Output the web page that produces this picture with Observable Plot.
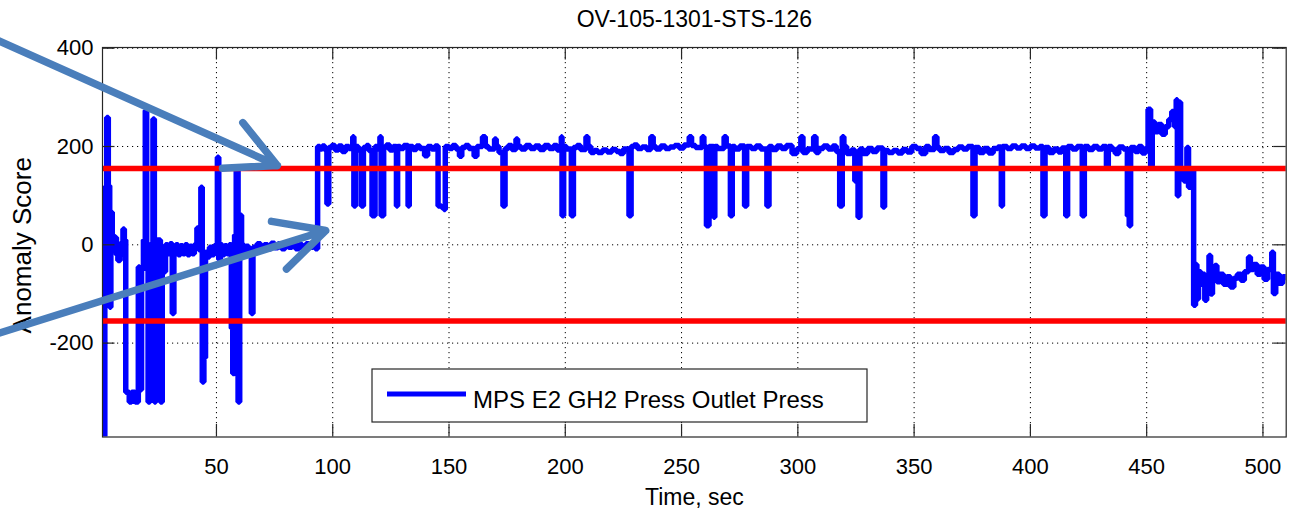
<!DOCTYPE html>
<html>
<head>
<meta charset="utf-8">
<script src="https://cdn.jsdelivr.net/npm/d3@7"></script>
<script src="https://cdn.jsdelivr.net/npm/@observablehq/plot@0.6"></script>
<style>
  html, body { margin: 0; padding: 0; background: #fff; }
  #chart { width: 1293px; height: 509px; overflow: hidden; }
</style>
</head>
<body>
<div id="chart"></div>
<script>
// ---------- data ----------
const chartTitle = "OV-105-1301-STS-126";
const xLabel = "Time, sec";
const yLabel = "Anomaly Score";
const seriesName = "MPS E2 GH2 Press Outlet Press";

const xTicks = [50, 100, 150, 200, 250, 300, 350, 400, 450, 500];
const yTicks = [-200, 0, 200, 400];
const thresholds = [155, -155];

// [time (sec), anomaly score] — held until the next sample
const earlySamples = [
  [1,115],[1.4,-390],[2.0,30],[2.8,259],[3.5,120],[4.1,-127],[4.6,66],[5.2,20],[5.8,-12],[6.4,15],
  [7.0,-20],[7.6,-32],[8.6,-22],[9.2,5],[9.8,32],[10.4,10],[11.0,-300],[12.5,-320],[13.5,-300],[15.0,-320],
  [16.4,-45],[17.0,-295],[17.8,-50],[18.6,10],[19.4,273],[20.0,-20],[20.6,-320],[21.4,0],[22.2,-30],[22.7,256],
  [23.3,-320],[23.9,-40],[24.6,10],[25.9,-320],[26.7,-20],[27.4,-55],[28.1,0],[29,-18],[30,2],[31,-140],
  [31.7,-15],[32.5,0],[33.5,-20],[34.5,-2],[35.5,-18],[36.5,0],[37.5,-20],[38.5,-3],[39.5,-18],[40.5,0],
  [41.6,34],[42.4,-10],[43.3,117],[43.9,-279],[44.6,-230],[45.3,-15],[46.2,-25],[47,-5],[48,-20],[49,-2],
  [50.4,178],[51,-30],[51.7,0],[52.5,-20],[53.5,-2],[54.5,-18],[55.5,0],[56.4,-170],[57,-262],[57.8,20],
  [58.5,151],[59.3,-320],[60,60],[60.8,0],[61.8,-18],[62.8,-3],[63.8,-15],[65,-140],[65.7,-5],[66.5,-12],
  [67.5,2],[69,-10],[70.5,0],[72,-8],[73.5,3],[75,-6],[76.5,2],[78,-8],[79.5,0],[81,-5],
  [82.5,3],[84,-8],[85.5,0],[87,-8],[88.5,2],[90,-5],[91.5,0],[92.5,-8]
];

const plateauSamples = [
  [93.5,200],[94.5,195],[95.5,201],[96.6,193],[97.5,83],[98.3,198],[99.5,202],[101,193],[102.5,201],[104,190],
  [105.5,200],[107,196],[108.6,220],[109.1,79],[109.8,200],[111,193],[112.3,79],[113.2,198],[114.5,202],[115.5,192],
  [116.9,59],[118.2,200],[119.3,195],[120.3,220],[120.8,59],[121.9,198],[123,203],[124.5,193],[126,200],[127.4,79],
  [127.9,200],[129,196],[130.5,202],[132.4,79],[132.9,200],[134.5,194],[136,201],[137.5,196],[139.5,181],[140.8,200],
  [142.5,195],[144,201],[145.3,79],[146.8,76],[147.8,72],[148.4,200],[150,196],[151.5,202],[153,195],[154.5,180],
  [155.5,198],[157,202],[158.5,196],[160.8,180],[162,200],[164.4,220],[165.6,200],[167,195],[169.6,215],[170.3,200],
  [171.5,188],[173.2,79],[174.1,196],[175.5,202],[177,194],[178.8,215],[179.5,200],[181,195],[183,202],[185,196],
  [187,201],[189,194],[191,202],[193,196],[195,202],[196.5,193],[198.3,220],[198.6,59],[199.3,200],[200.5,195],
  [202.6,59],[203.5,198],[205,202],[206.5,194],[208.9,220],[209.7,200],[211,188],[212.5,192],[214,188],[216,193],
  [218,189],[220,194],[222,190],[223.5,186],[225,195],[227.4,59],[228.3,200],[229.5,203],[231,196],[233,199],
  [235,194],[236.8,220],[237.8,200],[239,195],[241,201],[243,196],[245,199],[247,202],[249,197],[251,203],
  [253.3,220],[254.3,202],[256,198],[258.9,220],[259.6,200],[260.7,39],[261.8,200],[263.8,56],[264.3,200],[265.5,196],
  [268.3,220],[269.2,201],[271,59],[271.8,200],[273,195],[275,201],[277.1,79],[278,200],[280,196],[282,201],
  [284,195],[286.7,79],[287.6,200],[289,194],[291,201],[293,196],[295,202],[297.5,186],[299.5,195],[301.3,220],
  [302.2,188],[304,195],[306.8,220],[307.8,188],[309,196],[311,201],[313,195],[315,201],[316.5,190],[318,79],
  [319.1,220],[319.8,200],[321,186],[323,193],[324.5,130],[325.9,56],[326.7,195],[328,186],[330,196],[332,190],
  [334,197],[336.6,77],[337.3,192],[339,188],[341,192],[343,187],[345,194],[347,189],[349,200],[351,196],
  [353,186],[355,200],[356.5,194],[358.8,220],[359.8,198],[361,192],[363,196],[365,188],[367,194],[369,199],
  [371,195],[373,200],[375.3,59],[376.2,198],[378,188],[380,196],[382,187],[384,196],[386,199],[387.5,79],
  [388,200],[390,196],[392,201],[394,197],[396,201],[398,196],[400,201],[402,197],[404,200],[405.4,59],
  [406.3,198],[408,188],[410,195],[412,189],[413.5,197],[415.2,59],[416,200],[418,195],[420,200],[422.3,59],
  [423.2,200],[425,194],[427,200],[429,195],[431,200],[432.7,161],[433.5,200],[435,194],[436.5,186],[438,199],
  [440,195],[441.7,59],[442.5,39],[443.1,198],[445,190],[446.5,200],[448,187],[449.5,196]
];

const lateSamples = [
  [450.6,276],[451.7,161],[452.4,250],[453.5,230],[455,245],[456.5,225],[458,240],[459.5,255],[460.8,271],[462,240],
  [462.7,295],[463.2,100],[463.8,290],[464.6,150],[466,130],[467.3,198],[468,117],[469,150],[470.2,-123],[471,-40],
  [471.6,-110],[472.3,-55],[473.3,-80],[474.2,-60],[475,-113],[475.8,-65],[476.8,-22],[477.5,-100],[478.3,-55],[479.3,-42],
  [480.2,-75],[481.5,-60],[483,-80],[484.5,-65],[486,-86],[487.5,-68],[489,-60],[490.5,-72],[492,-55],[493.8,-25],
  [494.6,-50],[496,-40],[497.5,-60],[499,-45],[500.5,-70],[502,-50],[503.8,-15],[504.5,-99],[505.5,-60],[507,-78],
  [508.5,-65],[510,-72]
];

// annotation arrows (data coordinates, start off the left edge)
const arrowFrom = [[-47, 422], [-47, -185]];
const arrowTo = [[76.2, 161.3], [97.0, 29.1]];

// ---------- build ----------
const samples = [...earlySamples, ...plateauSamples, ...lateSamples]
  .map(([t, v]) => ({t, v}));
const arrows = arrowFrom.map((f, i) => ({x1: f[0], y1: f[1], x2: arrowTo[i][0], y2: arrowTo[i][1]}));

const W = 1293, H = 509;
const mT = 47, mR = 7.3, mB = 72.5, mL = 102;
const plotW = W - mL - mR, plotH = H - mT - mB;
const tickLen = 12.5;
const font = "'Liberation Sans', Arial, Helvetica, sans-serif";

const chart = Plot.plot({
  width: W,
  height: H,
  marginTop: mT,
  marginRight: mR,
  marginBottom: mB,
  marginLeft: mL,
  style: {fontFamily: font, fontSize: "22px", color: "#000", background: "#fff", overflow: "hidden"},
  x: {domain: [1, 510], ticks: xTicks, tickSize: 0, tickPadding: 21, tickFormat: d => String(d), label: null},
  y: {domain: [-391, 401.4], ticks: yTicks, tickSize: 0, tickPadding: 9, tickFormat: d => String(d), label: null},
  marks: [
    Plot.ruleX(xTicks, {x: d => d, stroke: "#000", strokeWidth: 1, strokeDasharray: "1.2,3.8"}),
    Plot.ruleY(yTicks, {y: d => d, stroke: "#000", strokeWidth: 1, strokeDasharray: "1.2,3.8"}),
    Plot.line(samples, {x: "t", y: "v", curve: "step-after", stroke: "#0000ff", strokeWidth: 5.5,
      strokeLinejoin: "miter", strokeLinecap: "butt", clip: true}),
    Plot.ruleY(thresholds, {y: d => d, stroke: "#ff0000", strokeWidth: 5.5}),
    Plot.frame({stroke: "#262626", strokeWidth: 1.2}),
    Plot.tickX(xTicks, {x: d => d, stroke: "#262626", strokeWidth: 1.2, insetTop: plotH - tickLen}),
    Plot.tickX(xTicks, {x: d => d, stroke: "#262626", strokeWidth: 1.2, insetBottom: plotH - tickLen}),
    Plot.tickY(yTicks, {y: d => d, stroke: "#262626", strokeWidth: 1.2, insetRight: plotW - tickLen}),
    Plot.tickY(yTicks, {y: d => d, stroke: "#262626", strokeWidth: 1.2, insetLeft: plotW - tickLen}),
    Plot.text([chartTitle], {text: d => d, frameAnchor: "top", lineAnchor: "middle", textAnchor: "middle",
      dy: -27.5, fontSize: 23, fill: "#000"}),
    Plot.text([xLabel], {text: d => d, frameAnchor: "bottom", lineAnchor: "middle", textAnchor: "middle",
      dy: 61, fontSize: 23, fill: "#000"}),
    Plot.text([yLabel], {text: d => d, frameAnchor: "left", lineAnchor: "middle", textAnchor: "middle",
      dx: -80, dy: 3, rotate: -90, fontSize: 26, fill: "#000"}),
    Plot.arrow(arrows, {x1: "x1", y1: "y1", x2: "x2", y2: "y2", stroke: "#4a7ebb", strokeWidth: 7.5,
      headLength: 11, headAngle: 54})
  ]
});

// legend box (MATLAB style, inside the axes)
const svg = d3.select(chart);
const lg = svg.append("g").attr("font-family", font).attr("text-anchor", "start");
lg.append("rect").attr("x", 372).attr("y", 369).attr("width", 495).attr("height", 53)
  .attr("fill", "#fff").attr("stroke", "#262626").attr("stroke-width", 1.2);
lg.append("line").attr("x1", 387).attr("x2", 466).attr("y1", 394).attr("y2", 394)
  .attr("stroke", "#0000ff").attr("stroke-width", 5);
lg.append("text").attr("x", 473).attr("y", 407.5).attr("font-size", 24).attr("fill", "#000")
  .attr("text-anchor", "start").text(seriesName);

document.getElementById("chart").appendChild(chart);
</script>
</body>
</html>
